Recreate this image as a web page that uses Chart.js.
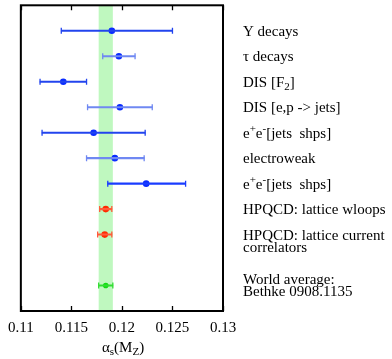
<!DOCTYPE html>
<html>
<head>
<meta charset="utf-8">
<script src="https://cdn.jsdelivr.net/npm/chart.js@4"></script>
<style>
  html, body { margin: 0; padding: 0; background: #fff; }
  #wrap { width: 392px; height: 359px; }
</style>
</head>
<body>
<div id="wrap"><canvas id="chart" width="392" height="359"></canvas></div>
<script>
// measurements of alpha_s(M_Z)
const labels = [
  ["Υ decays"],
  ["τ decays"],
  ["DIS [F_{2}]"],
  ["DIS [e,p -> jets]"],
  ["e^{+}e^{-}[jets  shps]"],
  ["electroweak"],
  ["e^{+}e^{-}[jets  shps]"],
  ["HPQCD: lattice wloops"],
  ["HPQCD: lattice current", "correlators"],
  ["World average:", "Bethke 0908.1135"]
];
const rows    = [0, 1, 2, 3, 4, 5, 6, 7, 8, 10];
const central = [0.1190, 0.1197, 0.1142, 0.1198, 0.1172, 0.1193, 0.1224, 0.1184, 0.1183, 0.1184];
const lower   = [0.1140, 0.1181, 0.1119, 0.1166, 0.1121, 0.1165, 0.1186, 0.1178, 0.1176, 0.1177];
const upper   = [0.1250, 0.1213, 0.1165, 0.1230, 0.1223, 0.1222, 0.1263, 0.1190, 0.1190, 0.1191];
const worldBand = [0.1177, 0.1191];
const xTicks = [0.11, 0.115, 0.12, 0.125, 0.13];
const xTickLabels = ["0.11", "0.115", "0.12", "0.125", "0.13"];

// colours
const pointColors = ["#0a2cff", "#0a2cff", "#0a2cff", "#0a2cff", "#0a2cff", "#0a2cff", "#0a2cff", "#ff2a00", "#ff2a00", "#11dd11"];
const barColors = ["#2244ee", "#6f88f2", "#2244ee", "#6f88f2", "#2244ee", "#6f88f2", "#1a3cff", "#ff5a3a", "#ff5a3a", "#33dd33"];

const serif = "'Liberation Serif', 'DejaVu Serif', serif";
const fontSize = 15;

// draws "a^{b}c_{d}" style text
function richText(ctx, str, x, y, size) {
  const re = /([\^_])\{([^}]*)\}|([^\^_]+)/g;
  let m;
  while ((m = re.exec(str)) !== null) {
    let txt, fs = size, dy = 0;
    if (m[3] !== undefined) {
      txt = m[3];
    } else {
      txt = m[2];
      fs = Math.round(size * 0.7);
      dy = m[1] === "^" ? -size * 0.38 : size * 0.22;
    }
    ctx.font = fs + "px " + serif;
    ctx.fillText(txt, x, y + dy);
    x += ctx.measureText(txt).width;
  }
}

const framePlugin = {
  id: "frame",
  beforeDatasetsDraw(chart) {
    const { ctx, chartArea: a, scales: { x } } = chart;
    ctx.save();
    ctx.fillStyle = "#bff8bf";
    const x0 = x.getPixelForValue(worldBand[0]);
    const x1 = x.getPixelForValue(worldBand[1]);
    ctx.fillRect(x0, a.top, x1 - x0, a.bottom - a.top);
    ctx.restore();
  },
  afterDraw(chart) {
    const { ctx, chartArea: a, scales: { x, y } } = chart;
    ctx.save();
    // box
    ctx.strokeStyle = "#000";
    ctx.lineWidth = 2;
    ctx.strokeRect(a.left, a.top, a.right - a.left, a.bottom - a.top);
    // inward ticks top and bottom
    ctx.lineWidth = 1.3;
    xTicks.forEach(v => {
      const px = Math.round(x.getPixelForValue(v)) + 0.5;
      ctx.beginPath();
      ctx.moveTo(px, a.bottom); ctx.lineTo(px, a.bottom - 5);
      ctx.moveTo(px, a.top); ctx.lineTo(px, a.top + 5);
      ctx.stroke();
    });
    // row labels on the right
    ctx.fillStyle = "#000";
    ctx.textBaseline = "alphabetic";
    labels.forEach((lines, i) => {
      const py = y.getPixelForValue(rows[i]);
      let start = py + 5;
      if (lines.length > 1 && i === labels.length - 1) start = py - 2;
      lines.forEach((ln, j) => richText(ctx, ln, 243, start + j * 12, fontSize));
    });
    // axis title
    ctx.font = fontSize + "px " + serif;
    const w = ctx.measureText("α(M)").width + 2 * ctx.measureText("s").width * 0.75;
    richText(ctx, "α_{s}(M_{Z})", (a.left + a.right) / 2 - w / 2, 352, fontSize);
    ctx.restore();
  }
};

const barData = rows.map((r, i) => ({ x: [lower[i], upper[i]], y: r }));
const capData = [];
const capColors = [];
rows.forEach((r, i) => {
  capData.push({ x: lower[i], y: r }, { x: upper[i], y: r });
  capColors.push(barColors[i], barColors[i]);
});
const pointData = rows.map((r, i) => ({ x: central[i], y: r }));

new Chart(document.getElementById("chart"), {
  type: "scatter",
  data: {
    datasets: [
      {
        type: "bar",
        indexAxis: "y",
        data: barData,
        backgroundColor: barColors,
        borderWidth: 0,
        barThickness: 1.4,
        grouped: false
      },
      {
        data: capData,
        pointStyle: "line",
        rotation: 90,
        radius: 3,
        borderWidth: 1.3,
        borderColor: capColors
      },
      {
        data: pointData,
        pointStyle: "circle",
        radius: rows.map((r, i) => i === rows.length - 1 ? 2.8 : 3.3),
        borderWidth: 0,
        backgroundColor: pointColors
      }
    ]
  },
  options: {
    responsive: false,
    animation: false,
    layout: { padding: { left: 18, top: 5, right: 169, bottom: 14 } },
    plugins: { legend: { display: false }, tooltip: { enabled: false } },
    scales: {
      x: {
        type: "linear",
        min: 0.11,
        max: 0.13,
        afterBuildTicks: s => { s.ticks = xTicks.map(v => ({ value: v })); },
        grid: { display: false, drawTicks: false },
        border: { display: false },
        ticks: {
          autoSkip: false,
          maxRotation: 0,
          padding: 8,
          color: "#000",
          font: { family: serif, size: fontSize },
          callback: (v, i) => xTickLabels[i]
        }
      },
      y: {
        type: "linear",
        min: -1,
        max: 11,
        reverse: true,
        offset: false,
        display: false
      }
    }
  },
  plugins: [framePlugin]
});
</script>
</body>
</html>
